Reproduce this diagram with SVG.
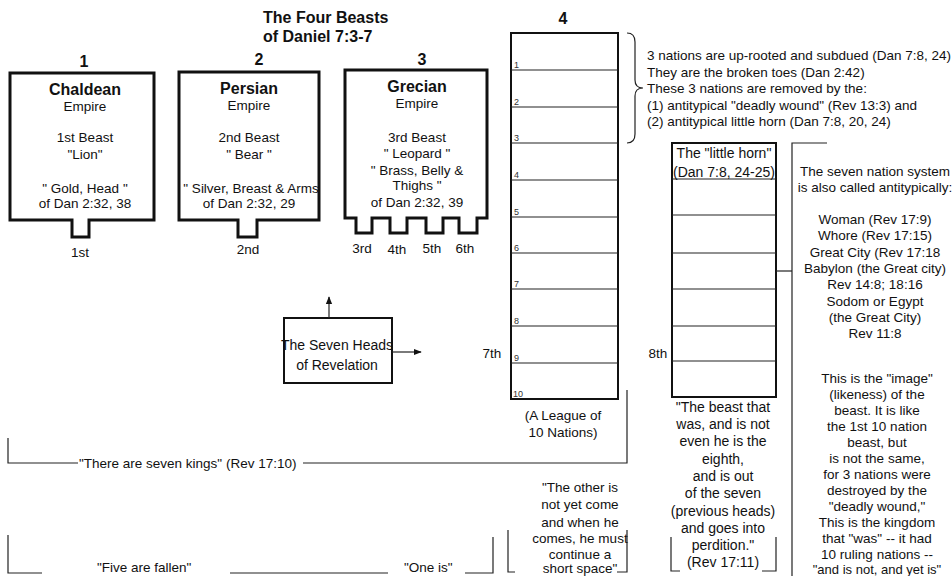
<svg xmlns="http://www.w3.org/2000/svg" width="952" height="576" viewBox="0 0 952 576">
<defs>
<marker id="ah" viewBox="0 0 10 10" refX="9" refY="5" markerWidth="8" markerHeight="8" markerUnits="userSpaceOnUse" orient="auto"><path d="M0,1 L10,5 L0,9 Z" fill="#111"/></marker>
<style>
text{font-family:"Liberation Sans",Arial,sans-serif;font-size:13.5px;fill:#111}
.c{text-anchor:middle}
.b{font-weight:bold;font-size:16px}
.l{font-size:14px}
.s{font-size:13px}
.n{font-size:9px;fill:#333}
.beast{fill:#fff;stroke:#111;stroke-width:3;stroke-linejoin:miter}
.box{fill:#fff;stroke:#111;stroke-width:2}
.row{stroke:#222;stroke-width:1.2;fill:none}
.ln{stroke:#222;stroke-width:1.2;fill:none}
</style>
</defs>
<rect width="952" height="576" fill="#fff"/>

<g id="title">
<text x="263" y="23" class="b">The Four Beasts</text>
<text x="263" y="42" class="b">of Daniel 7:3-7</text>
</g>

<g id="beast1">
<text x="84" y="67" class="b c">1</text>
<path class="beast" d="M10,73 H154 V220 H89 V237 H72 V220 H10 Z"/>
<text x="85" y="95" class="b c">Chaldean</text>
<text x="85" y="111" class="c">Empire</text>
<text x="85" y="142" class="c">1st Beast</text>
<text x="85" y="159" class="c">"Lion"</text>
<text x="85" y="193" class="c">" Gold, Head "</text>
<text x="85" y="208" class="c">of Dan 2:32, 38</text>
<text x="80" y="257" class="c">1st</text>
</g>

<g id="beast2">
<text x="259" y="65" class="b c">2</text>
<path class="beast" d="M179,72 H319 V220 H257 V237 H238 V220 H179 Z"/>
<text x="249" y="94" class="b c">Persian</text>
<text x="249" y="110" class="c">Empire</text>
<text x="249" y="142" class="c">2nd Beast</text>
<text x="249" y="159" class="c">" Bear "</text>
<text x="251" y="193" class="c">" Silver, Breast &amp; Arms</text>
<text x="249" y="208" class="c">of Dan 2:32, 29</text>
<text x="248" y="254" class="c">2nd</text>
</g>

<g id="beast3">
<text x="422" y="65" class="b c">3</text>
<path class="beast" d="M345,70 H487 V218 H477 V233 H459 V218 H443 V233 H426 V218 H407 V233 H390 V218 H372 V233 H356 V218 H345 Z"/>
<text x="417" y="92" class="b c">Grecian</text>
<text x="417" y="108" class="c">Empire</text>
<text x="417" y="142" class="c">3rd Beast</text>
<text x="417" y="158" class="c">" Leopard "</text>
<text x="417" y="175" class="c">" Brass, Belly &amp;</text>
<text x="417" y="190" class="c">Thighs "</text>
<text x="417" y="207" class="c">of Dan 2:32, 39</text>
<text x="362" y="253" class="c">3rd</text>
<text x="397" y="254" class="c">4th</text>
<text x="432" y="253" class="c">5th</text>
<text x="465" y="253" class="c">6th</text>
</g>

<g id="beast4">
<text x="563" y="24" class="b c">4</text>
<rect class="box" x="511" y="33" width="107" height="366"/>
<path class="row" d="M511,70 H618 M511,107 H618 M511,143 H618 M511,180 H618 M511,217 H618 M511,253 H618 M511,289 H618 M511,326 H618 M511,363 H618"/>
<text x="514" y="68" class="n">1</text>
<text x="514" y="105" class="n">2</text>
<text x="514" y="141" class="n">3</text>
<text x="514" y="178" class="n">4</text>
<text x="514" y="215" class="n">5</text>
<text x="514" y="251" class="n">6</text>
<text x="514" y="287" class="n">7</text>
<text x="514" y="324" class="n">8</text>
<text x="514" y="361" class="n">9</text>
<text x="513" y="397" class="n">10</text>
<text x="563" y="420" class="c">(A League of</text>
<text x="563" y="437" class="c">10 Nations)</text>
<text x="492" y="358" class="c">7th</text>
</g>

<g id="uprooted-note">
<path class="ln" d="M627,33 Q635,33 635,42 V80 Q635,88 643,88 Q635,88 635,96 V134 Q635,143 627,143" stroke-width="1.5"/>
<text x="647" y="60">3 nations are up-rooted and subdued (Dan 7:8, 24)</text>
<text x="647" y="77">They are the broken toes (Dan 2:42)</text>
<text x="647" y="93">These 3 nations are removed by the:</text>
<text x="647" y="110">(1) antitypical "deadly wound" (Rev 13:3) and</text>
<text x="647" y="126">(2) antitypical little horn (Dan 7:8, 20, 24)</text>
</g>

<g id="little-horn">
<rect class="box" x="672" y="143" width="104" height="254"/>
<path class="row" d="M672,179 H776 M672,215 H776 M672,253 H776 M672,289 H776 M672,326 H776 M672,361 H776"/>
<text x="724" y="158" class="c l">The "little horn"</text>
<text x="724" y="177" class="c l">(Dan 7:8, 24-25)</text>
<text x="658" y="358" class="c">8th</text>
<text x="723" y="412" class="c l">"The beast that</text>
<text x="723" y="429" class="c l">was, and is not</text>
<text x="723" y="446" class="c l">even he is the</text>
<text x="723" y="464" class="c l">eighth,</text>
<text x="723" y="481" class="c l">and is out</text>
<text x="723" y="498" class="c l">of the seven</text>
<text x="723" y="516" class="c l">(previous heads)</text>
<text x="723" y="533" class="c l">and goes into</text>
<text x="723" y="550" class="c l">perdition."</text>
<text x="723" y="567" class="c l">(Rev 17:11)</text>
</g>

<g id="seven-heads">
<rect class="box" x="284" y="318" width="108" height="65" stroke-width="1.8"/>
<text x="337" y="350" class="c l">The Seven Heads</text>
<text x="337" y="370" class="c l">of Revelation</text>
</g>

<g id="system-note">
<text x="875" y="176" class="c">The seven nation system</text>
<text x="875" y="192" class="c">is also called antitypically:</text>
<text x="875" y="224" class="c">Woman (Rev 17:9)</text>
<text x="875" y="240" class="c">Whore (Rev 17:15)</text>
<text x="875" y="257" class="c">Great City (Rev 17:18</text>
<text x="875" y="273" class="c">Babylon (the Great city)</text>
<text x="875" y="289" class="c">Rev 14:8; 18:16</text>
<text x="875" y="306" class="c">Sodom or Egypt</text>
<text x="875" y="322" class="c">(the Great City)</text>
<text x="875" y="338" class="c">Rev 11:8</text>
<text x="877" y="383" class="c">This is the "image"</text>
<text x="877" y="399" class="c">(likeness) of the</text>
<text x="877" y="415" class="c">beast. It is like</text>
<text x="877" y="431" class="c">the 1st  10 nation</text>
<text x="877" y="447" class="c">beast, but</text>
<text x="877" y="463" class="c">is not the same,</text>
<text x="877" y="479" class="c">for 3 nations were</text>
<text x="877" y="495" class="c">destroyed by the</text>
<text x="877" y="511" class="c">"deadly wound,"</text>
<text x="877" y="527" class="c">This is the kingdom</text>
<text x="877" y="543" class="c">that "was" -- it had</text>
<text x="877" y="559" class="c">10 ruling nations --</text>
<text x="877" y="574" class="c s">"and is not, and yet is"</text>
</g>

<g id="other-note">
<text x="580" y="492" class="c">"The other is</text>
<text x="580" y="509" class="c">not yet come</text>
<text x="580" y="527" class="c">and when he</text>
<text x="580" y="543" class="c">comes, he must</text>
<text x="580" y="559" class="c">continue a</text>
<text x="580" y="573" class="c">short space"</text>
</g>

<g id="kings-labels">
<text x="79" y="468">"There are seven kings" (Rev 17:10)</text>
<text x="97" y="572">"Five are fallen"</text>
<text x="404" y="572">"One is"</text>
</g>

<g id="connectors">
<path class="ln" d="M329,318 V297" marker-end="url(#ah)" stroke-width="1.5"/>
<path class="ln" d="M392,352 H421" marker-end="url(#ah)" stroke-width="1.2"/>
<path class="ln" d="M8,438 V463 H78"/>
<path class="ln" d="M303,463 H627 V390"/>
<path class="ln" d="M8,535 V573 H42"/>
<path class="ln" d="M230,573 H388"/>
<path class="ln" d="M465,573 H493 V537"/>
<path class="ln" d="M508,530 V572 H515"/>
<path class="ln" d="M617,572 H627 V530"/>
<path class="ln" d="M671,537 V571 H680"/>
<path class="ln" d="M762,571 H776 V537"/>
<path class="ln" d="M776,271 H792"/>
<path class="ln" d="M827,143 H792 V576"/>
</g>
</svg>
